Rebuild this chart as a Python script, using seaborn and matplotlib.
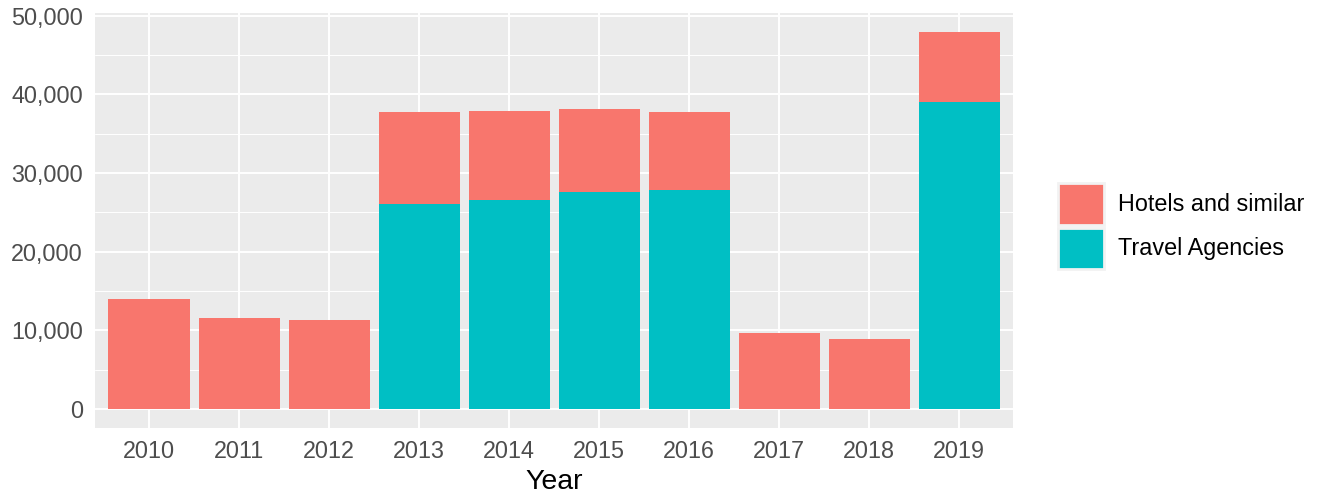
import pandas as pd
import seaborn as sns
import matplotlib.pyplot as plt
from matplotlib.patches import Patch
from matplotlib.ticker import FuncFormatter, MultipleLocator

# values
years = ["2010", "2011", "2012", "2013", "2014", "2015", "2016", "2017", "2018", "2019"]
hotels = [14050, 11630, 11380, 11700, 11300, 10560, 9920, 9640, 8970, 8970]
travel_agencies = [0, 0, 0, 26080, 26600, 27600, 27860, 0, 0, 38960]
labels = ["Hotels and similar", "Travel Agencies"]

HOTEL_COL = "#F8766D"
TA_COL = "#00BFC4"

df = pd.DataFrame({"Year": years, "Hotels": hotels, "TA": travel_agencies})
df["Total"] = df["Hotels"] + df["TA"]

sns.set_theme(style="darkgrid")
plt.rcParams["font.family"] = ["Liberation Sans", "DejaVu Sans"]

fig = plt.figure(figsize=(13.22, 4.97), dpi=100)
ax = fig.add_axes([95 / 1322, 69 / 497, 918 / 1322, 415 / 497])
ax.set_facecolor("#EBEBEB")

# stacked bars: total in hotel colour, travel agencies drawn over it
sns.barplot(data=df, x="Year", y="Total", color=HOTEL_COL, saturation=1,
            width=0.9, ax=ax, linewidth=0, zorder=3)
sns.barplot(data=df, x="Year", y="TA", color=TA_COL, saturation=1,
            width=0.9, ax=ax, linewidth=0, zorder=4)

ymax = df["Total"].max()
ax.set_ylim(-0.05 * ymax, ymax * 1.05)
ax.set_xlim(-0.6, 9.6)

ax.yaxis.set_major_locator(MultipleLocator(10000))
ax.yaxis.set_minor_locator(MultipleLocator(5000))
ax.yaxis.set_major_formatter(FuncFormatter(lambda v, p: f"{int(v):,}"))

ax.grid(which="major", color="white", linewidth=1.4, zorder=0)
ax.grid(which="minor", axis="y", color="white", linewidth=0.7, zorder=0)
ax.set_axisbelow(True)
for s in ax.spines.values():
    s.set_visible(False)

ax.tick_params(axis="both", which="major", length=4.8, width=1.4, color="#333333",
               labelsize=16.8, labelcolor="#4D4D4D", pad=4)
ax.tick_params(axis="y", which="minor", length=0)

ax.set_xlabel("Year", fontsize=20.5, color="black", labelpad=4)
ax.set_ylabel("")

handles = [Patch(facecolor=HOTEL_COL, edgecolor="#F2F2F2", linewidth=2),
           Patch(facecolor=TA_COL, edgecolor="#F2F2F2", linewidth=2)]
leg = fig.legend(handles, labels, loc="center left", bbox_to_anchor=(1058 / 1322, 0.545),
                 frameon=False, fontsize=16.8, handlelength=1.95, handleheight=2.35,
                 handletextpad=0.62, labelspacing=0.12, borderpad=0, borderaxespad=0)
for t in leg.get_texts():
    t.set_color("black")

fig.savefig("out.png", dpi=100)
